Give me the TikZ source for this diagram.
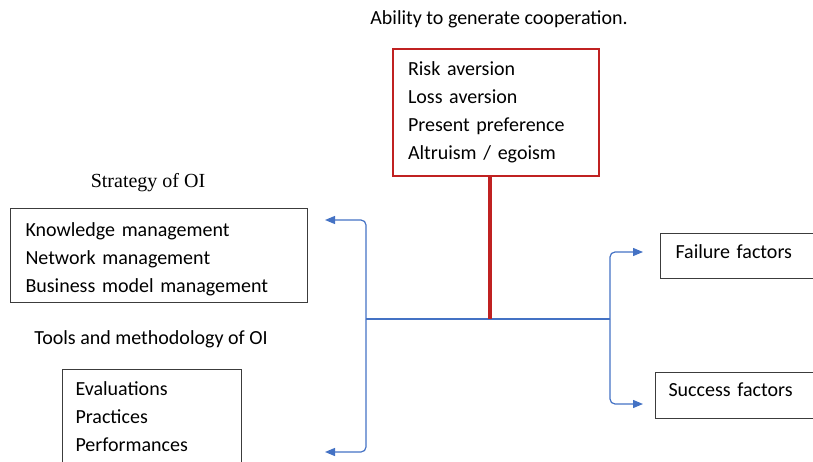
\documentclass[tikz,border=0pt]{standalone}
\usepackage{fontspec}
\setmainfont{Carlito}
\newfontfamily\oiserif{Liberation Serif}
\usetikzlibrary{arrows.meta,positioning}

\definecolor{oired}{RGB}{192,33,33}
\definecolor{oiblue}{RGB}{68,114,196}
\definecolor{oigray}{RGB}{60,60,60}

\begin{document}
\begin{tikzpicture}[x=1pt, y=-1pt,
  every node/.style={font=\fontsize{20}{28}\selectfont},
  lbl/.style={inner sep=0pt},
  box/.style={draw=oigray, line width=1pt, anchor=north west, align=left, inner ysep=0pt},
  redbox/.style={draw=oired, line width=2pt, anchor=north west, align=left, inner xsep=15pt, inner ysep=0pt,
    text width=176pt, minimum height=127pt},
  link/.style={draw=oiblue, line width=1.2pt},
  arr/.style={-{Triangle[length=10pt, width=8pt]}, rounded corners=5pt}]

\useasboundingbox (0,0) rectangle (813,462);

% top: cooperation
\node[lbl] (title) at (499,19) {Ability to generate cooperation.};
\node[redbox] (traits) at (392,48) {Risk aversion\\Loss aversion\\Present preference\\Altruism / egoism};

% left: strategy and tools
\node[lbl, font=\fontsize{20}{28}\oiserif] (stratlbl) at (148,183) {Strategy of OI};
\node[box, inner xsep=15pt, text width=267pt, minimum height=94pt, text height=22pt] (strat) at (10,208)
  {Knowledge management\\Network management\\Business model management};
\node[lbl] (toolslbl) at (151,339) {Tools and methodology of OI};
\node[box, inner xsep=13pt, text width=153pt, minimum height=94pt] (tools) at (62,369)
  {Evaluations\\Practices\\Performances};

% right: factors
\node[box, inner xsep=15pt, text width=170pt, minimum height=45pt, text depth=8pt] (fail) at (660,233) {Failure factors};
\node[box, inner xsep=13pt, text width=172pt, minimum height=46pt, text depth=12pt] (succ) at (655,372) {Success factors};

\coordinate (hub) at (490,319);
\coordinate (lhub) at (366,319);
\coordinate (rhub) at (610,319);
\coordinate (strattip) at (325,220);
\coordinate (toolstip) at (325,452);
\coordinate (failtip) at (643,252);
\coordinate (succtip) at (643,404);

\draw[link] (lhub) -- (rhub);
\draw[link, arr] (lhub) |- (strattip);
\draw[link, arr] (lhub) |- (toolstip);
\draw[link, arr] (rhub) |- (failtip);
\draw[link, arr] (rhub) |- (succtip);

\draw[oired, line width=4.5pt] (traits.south -| hub) -- (hub);

\end{tikzpicture}
\end{document}
